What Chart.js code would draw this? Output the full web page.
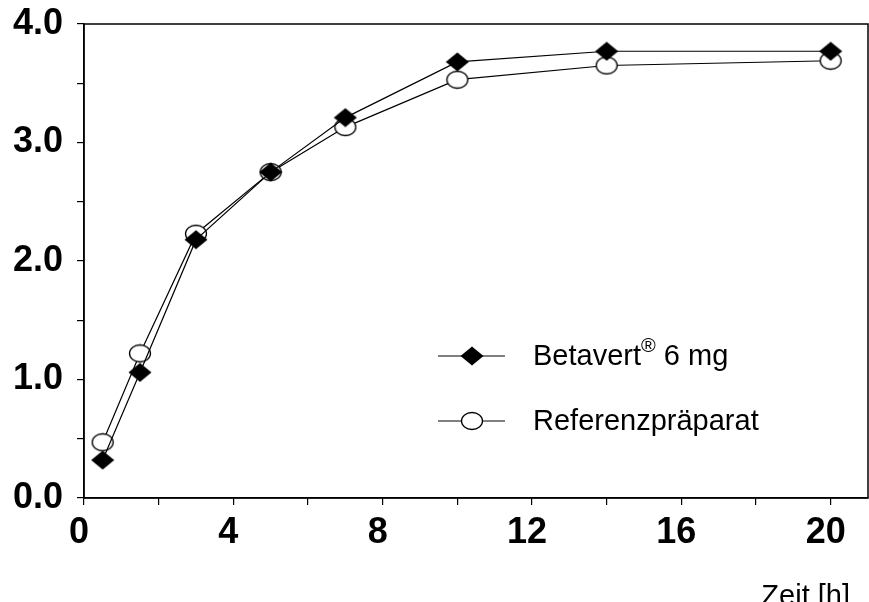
<!DOCTYPE html>
<html>
<head>
<meta charset="utf-8">
<script src="https://cdn.jsdelivr.net/npm/chart.js@4.4.1/dist/chart.umd.min.js"></script>
<style>
  html, body { margin: 0; padding: 0; background: #fff; }
  #wrap { width: 869px; height: 602px; position: relative; }
</style>
</head>
<body>
<div id="wrap"><canvas id="chart"></canvas></div>
<script>
// Zeitpunkte [h] und Messwerte beider Präparate
const TIMES = [0.5, 1.5, 3, 5, 7, 10, 14, 20];
const BETAVERT = [0.32, 1.06, 2.18, 2.75, 3.21, 3.68, 3.77, 3.77];
const REFERENZ = [0.47, 1.22, 2.23, 2.75, 3.13, 3.53, 3.65, 3.69];
const LEGEND_LABELS = ['Betavert', 'Referenzpräparat'];
const X_AXIS_TITLE = 'Zeit [h]';

// Slightly squashed markers, like the scanned original
function makeMarker(kind) {
  const c = document.createElement('canvas');
  c.width = 24; c.height = 20;
  const g = c.getContext('2d');
  g.lineWidth = 1.3;
  g.strokeStyle = '#000';
  if (kind === 'diamond') {
    g.beginPath();
    g.moveTo(12, 0.5); g.lineTo(23.5, 10); g.lineTo(12, 19.5); g.lineTo(0.5, 10);
    g.closePath();
    g.fillStyle = '#000';
    g.fill();
  } else {
    g.beginPath();
    g.ellipse(12, 10, 10.5, 8.5, 0, 0, Math.PI * 2);
    g.fillStyle = '#fff';
    g.fill();
    g.stroke();
  }
  return c;
}
const diamond = makeMarker('diamond');
const circle = makeMarker('circle');

const toPoints = ys => TIMES.map((t, i) => ({ x: t, y: ys[i] }));

const FONT = '"Liberation Sans", Arial, sans-serif';

// Box around the plot area, legend inside it, axis title bottom right
const framePlugin = {
  id: 'frame',
  afterDraw(chart) {
    const { ctx, chartArea: a } = chart;
    ctx.save();
    ctx.strokeStyle = '#000';
    ctx.lineWidth = 1.5;
    ctx.strokeRect(a.left, a.top, a.right - a.left, a.bottom - a.top);

    const rows = [
      { marker: diamond, y: a.top + 332 },
      { marker: circle, y: a.top + 397 },
    ];
    const lx = a.left + 354;
    ctx.lineWidth = 1.2;
    ctx.fillStyle = '#000';
    ctx.textBaseline = 'middle';
    rows.forEach((r, i) => {
      ctx.beginPath();
      ctx.moveTo(lx, r.y);
      ctx.lineTo(lx + 67, r.y);
      ctx.stroke();
      ctx.drawImage(r.marker, lx + 22, r.y - 10);
      ctx.font = '29px ' + FONT;
      ctx.textAlign = 'left';
      let tx = lx + 95;
      ctx.fillText(LEGEND_LABELS[i], tx, r.y + 1);
      if (i === 0) {
        tx += ctx.measureText(LEGEND_LABELS[i]).width;
        ctx.font = '20px ' + FONT;
        ctx.fillText('®', tx, r.y - 10);
        tx += ctx.measureText('®').width;
        ctx.font = '29px ' + FONT;
        ctx.fillText(' 6 mg', tx, r.y + 1);
      }
    });

    ctx.font = '29px ' + FONT;
    ctx.textAlign = 'right';
    ctx.textBaseline = 'alphabetic';
    ctx.fillText(X_AXIS_TITLE, a.right - 18, chart.height + 3);
    ctx.restore();
  },
};

const tickFont = { family: FONT, size: 36, weight: 'bold' };

new Chart(document.getElementById('chart'), {
  type: 'line',
  data: {
    datasets: [
      {
        label: 'Betavert 6 mg',
        data: toPoints(BETAVERT),
        borderColor: '#000',
        borderWidth: 1.2,
        pointStyle: diamond,
        tension: 0,
      },
      {
        label: 'Referenzpräparat',
        data: toPoints(REFERENZ),
        borderColor: '#000',
        borderWidth: 1.2,
        pointStyle: circle,
        tension: 0,
      },
    ],
  },
  plugins: [framePlugin],
  options: {
    responsive: true,
    maintainAspectRatio: false,
    animation: false,
    layout: { autoPadding: false, padding: { top: 24, right: 1, left: 0, bottom: 0 } },
    plugins: { legend: { display: false }, tooltip: { enabled: false } },
    scales: {
      x: {
        type: 'linear',
        min: 0,
        max: 21,
        afterFit: s => { s.height = 104; s.paddingLeft = 0; s.paddingRight = 0; },
        border: { color: '#000', width: 1.5 },
        grid: { drawOnChartArea: false, drawTicks: true, tickLength: 7, color: '#000', lineWidth: 1.2 },
        ticks: {
          stepSize: 2,
          includeBounds: false,
          maxRotation: 0,
          autoSkip: false,
          padding: 6,
          labelOffset: -5,
          color: '#000',
          font: tickFont,
          callback: v => (v % 4 === 0 ? String(v) : ''),
        },
      },
      y: {
        min: 0,
        max: 4,
        afterFit: s => { s.width = 84; s.paddingTop = 0; s.paddingBottom = 0; },
        border: { color: '#000', width: 1.5 },
        grid: { drawOnChartArea: false, drawTicks: true, tickLength: 7, color: '#000', lineWidth: 1.2 },
        ticks: {
          stepSize: 0.5,
          autoSkip: false,
          padding: 14,
          color: '#000',
          font: tickFont,
          callback: v => (Number.isInteger(v) ? v.toFixed(1) : ''),
        },
      },
    },
  },
});
</script>
</body>
</html>
